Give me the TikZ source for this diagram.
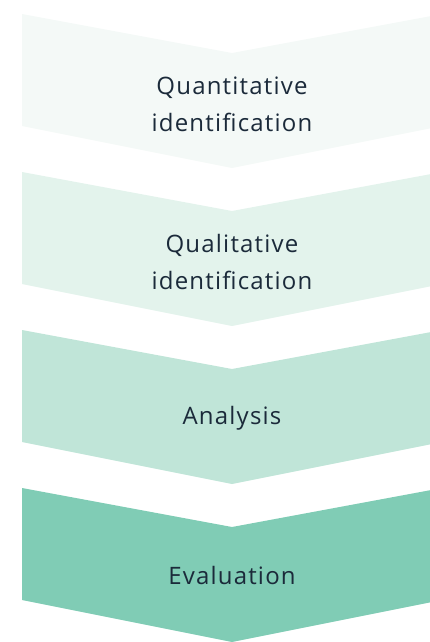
\documentclass[tikz,border=0pt]{standalone}
\usepackage{fontspec}
\setmainfont[LetterSpace=5]{Open Sans}
\definecolor{vertA}{HTML}{F4F9F7}
\definecolor{vertB}{HTML}{E3F3EC}
\definecolor{vertC}{HTML}{C0E5D8}
\definecolor{vertD}{HTML}{80CCB5}
\definecolor{encre}{HTML}{1B2A3A}
\tikzset{etiquette/.style={text=encre, align=center, inner sep=0pt, font=\fontsize{24}{37}\selectfont}}
\begin{document}
\begin{tikzpicture}[x=1pt,y=-1pt]
\clip (0,0) rectangle (430,642); % Pour la bounding box

\foreach \i/\c in {0/vertA,1/vertB,2/vertC,3/vertD}
  \fill [yshift={-158pt*\i}, \c] (22,14) -- (232,53) -- (442,14) -- (442,126) -- (232,168) -- (22,126) -- cycle;

\node [etiquette] (quanti) at (232,104) {Quantitative\\identification};
\node [etiquette] (quali) at (232,262) {Qualitative\\identification};
\node [etiquette] (analyse) at (232,418) {Analysis};
\node [etiquette] (evaluation) at (232,575) {Evaluation};
\end{tikzpicture}
\end{document}
